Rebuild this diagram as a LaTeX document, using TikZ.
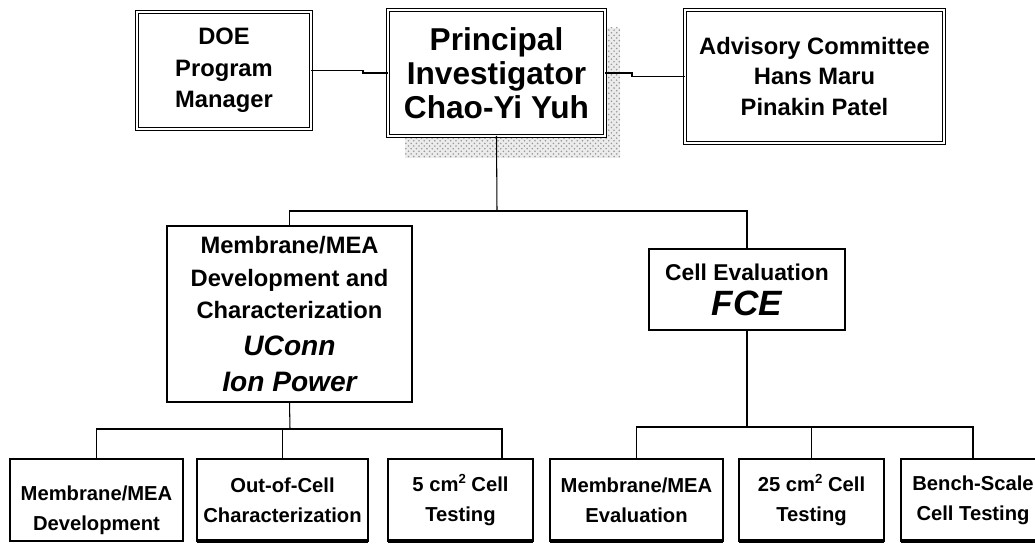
\documentclass[tikz,border=0pt]{standalone}
\usepackage{fontspec}
\setmainfont{Liberation Sans}
\usetikzlibrary{calc,patterns}
\newcommand{\sqr}{\raisebox{0.75ex}{\fontsize{7.5}{7.5}\selectfont 2}}
\tikzset{
  box/.style={draw, line width=0.8pt, fill=white, inner sep=0pt, outer sep=0pt, align=center, font=\bfseries},
  topbox/.style={box, double, double distance=1.4pt, line width=0.6pt},
  subbox/.style={box, minimum height=1.64cm, font=\bfseries\fontsize{11.5}{17}\selectfont},
  link/.style={line width=0.6pt}
}
\begin{document}
\begin{tikzpicture}[x=0.02cm, y=-0.02cm]
\useasboundingbox (0,0) rectangle (1035,544);
% shadow behind the principal investigator
\fill[gray!15] (405,28) rectangle (620,158);
\fill[pattern=crosshatch dots, pattern color=gray!80] (405,28) rectangle (620,158);
% top row
\node[topbox, minimum width=3.48cm, minimum height=2.34cm, font=\bfseries\fontsize{13.5}{18}\selectfont] (doe) at (224,70.5) {DOE\\Program\\Manager};
\node[topbox, minimum width=4.34cm, minimum height=2.52cm, font=\bfseries\fontsize{18}{19.5}\selectfont] (pi) at (496.5,73) {Principal\\Investigator\\Chao-Yi Yuh};
\node[topbox, minimum width=5.18cm, minimum height=2.66cm, font=\bfseries\fontsize{13.5}{17.6}\selectfont] (adv) at (814.5,76.5) {Advisory Committee\\Hans Maru\\Pinakin Patel};
% second row
\node[box, minimum width=4.9cm, minimum height=3.52cm, font=\bfseries\fontsize{13.5}{18.7}\selectfont] (mea) at (289.5,314) {Membrane/MEA\\Development and\\Characterization\\[2pt]{\itshape\fontsize{16}{19}\selectfont UConn}\\[2pt]{\itshape\fontsize{16}{19}\selectfont Ion Power}};
\node[box, minimum width=3.92cm, minimum height=1.62cm, font=\bfseries\fontsize{13}{18}\selectfont] (ce) at (747,289.5) {Cell Evaluation\\[2pt]{\itshape\fontsize{20}{22}\selectfont FCE}};
% bottom row
\node[subbox, minimum width=3.46cm] (dev) at (96.5,500) {\rule{0pt}{20pt}Membrane/MEA\\Development};
\node[subbox, minimum width=3.42cm] (occ) at (282.5,500) {Out-of-Cell\\Characterization};
\node[subbox, minimum width=2.9cm] (five) at (460.5,500) {5 cm\sqr{} Cell\\Testing};
\node[subbox, minimum width=3.46cm] (eval) at (636.5,500) {Membrane/MEA\\Evaluation};
\node[subbox, minimum width=2.9cm] (twfive) at (811.5,500) {25 cm\sqr{} Cell\\Testing};
\node[subbox, minimum width=2.88cm] (bench) at (973,500) {Bench-Scale\\Cell Testing};
\foreach \b in {occ,five,eval,twfive,bench}
  \draw[line width=2pt] (\b.south west) -- (\b.south east);
% connectors
\draw[link] (doe.east) -- ++(52,0) |- (pi.west);
\draw[link] (pi.east) -- ++(27,0) |- (adv.west);
\draw[link] (pi.south) -- (497,211);
\draw[link] (mea.north) |- (497,211) -| (ce.north);
\draw[link] (mea.south) -- (290,429);
\draw[link] (dev.north) |- (290,429) -| (occ.north);
\draw[link] (290,429) -| ($(five.north)+(41.5,0)$);
\draw[link] (ce.south) -- (747,427);
\draw[link] (eval.north) |- (747,427) -| (twfive.north);
\draw[link] (747,427) -| (bench.north);
\end{tikzpicture}
\end{document}
